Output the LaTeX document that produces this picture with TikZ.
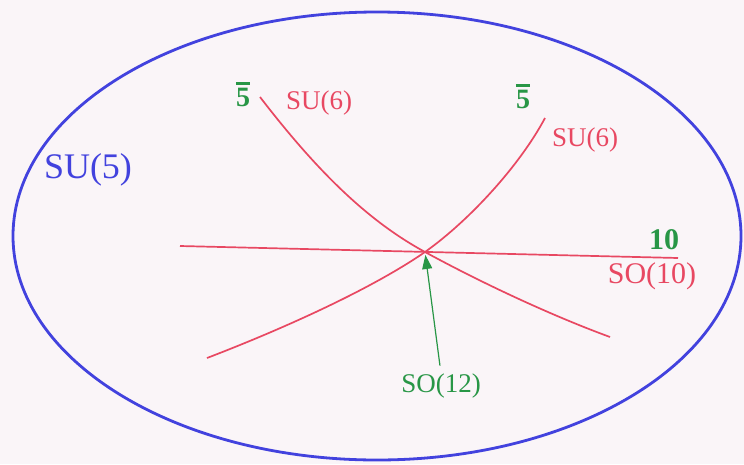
\documentclass[tikz,border=0pt]{standalone}
\usepackage{fontspec}
\setmainfont{Liberation Serif}
\usetikzlibrary{arrows.meta}
\definecolor{bg}{RGB}{250,245,248}
\definecolor{ered}{RGB}{232,72,98}
\definecolor{egreen}{RGB}{40,150,70}
\definecolor{eblue}{RGB}{66,66,222}
\begin{document}
\begin{tikzpicture}[x=1pt,y=-1pt,
  redline/.style={ered, line width=1.7pt},
  redlbl/.style={ered, inner sep=0pt, font=\fontsize{27}{27}\selectfont},
  greenlbl/.style={egreen, inner sep=0pt, font=\fontsize{28}{28}\selectfont\bfseries},
  bluelbl/.style={eblue, inner sep=0pt, font=\fontsize{36}{36}\selectfont},
  barline/.style={egreen, line width=2.2pt}]
\fill[bg] (0,0) rectangle (744,464);
\useasboundingbox (0,0) rectangle (744,464);
\draw[eblue, line width=2.8pt] (377,236) ellipse [x radius=364, y radius=224];
\coordinate (X) at (425,252);
\draw[redline] (180,246) -- (678,258);
\draw[redline] (260,97) .. controls (320,175) and (370,222) .. (X)
  .. controls (480,282) and (550,315) .. (610,337);
\draw[redline] (207,358) .. controls (280,330) and (370,290) .. (X)
  .. controls (470,220) and (520,165) .. (545,118);
\node[greenlbl] (b1) at (243,97) {5};
\draw[barline] ([yshift=4pt]b1.north west) -- ([yshift=4pt]b1.north east);
\node[redlbl] (s1) at (319,103) {SU(6)};
\node[greenlbl] (b2) at (523,99) {5};
\draw[barline] ([yshift=4pt]b2.north west) -- ([yshift=4pt]b2.north east);
\node[redlbl] (s2) at (585,140) {SU(6)};
\node[bluelbl] (s5) at (88,170) {SU(5)};
\node[greenlbl, font=\fontsize{30}{30}\selectfont\bfseries] (ten) at (664,240) {10};
\node[redlbl, font=\fontsize{30}{30}\selectfont] (s10) at (652,276) {SO(10)};
\node[egreen, inner sep=0pt, font=\fontsize{27}{27}\selectfont] (s12) at (441,386) {SO(12)};
\draw[egreen, line width=1.2pt, shorten <=8pt, shorten >=3pt, -{Triangle[length=14pt,width=10pt]}] (s12.north) -- (X);
\end{tikzpicture}
\end{document}
